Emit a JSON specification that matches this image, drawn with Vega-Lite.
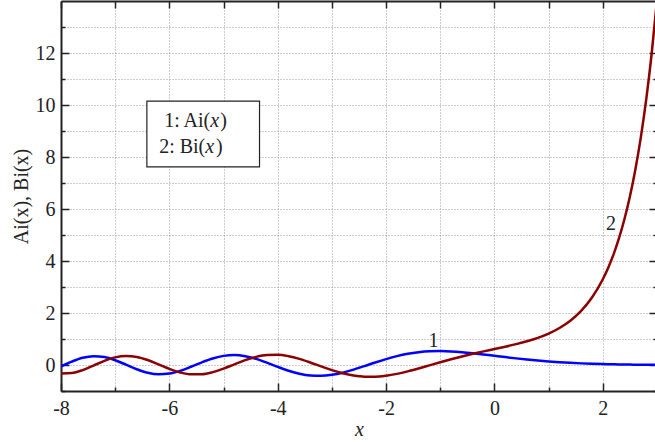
{
  "$schema": "https://vega.github.io/schema/vega-lite/v6.json",
  "width": 596,
  "height": 390,
  "autosize": {"type": "none"},
  "padding": {"left": 61, "top": 1, "right": 0, "bottom": 51},
  "background": "white",
  "config": {
    "font": "Liberation Serif",
    "view": {"stroke": null},
    "text": {"font": "Liberation Serif"},
    "axis": {
      "labelFont": "Liberation Serif",
      "labelFontSize": 20,
      "labelColor": "#222",
      "titleFont": "Liberation Serif",
      "titleFontSize": 20,
      "titleFontWeight": "normal",
      "titleColor": "#222",
      "domainColor": "#222",
      "domainWidth": 2,
      "tickColor": "#222",
      "tickWidth": 1.5,
      "gridColor": "#999",
      "gridDash": [1, 2],
      "gridWidth": 1,
      "labelOverlap": false,
      "labelFlush": false
    }
  },
  "datasets": {
    "curves": [
      {"x": -8.0, "Ai": -0.0527, "Bi": -0.3313},
      {"x": -7.8, "Ai": 0.1329, "Bi": -0.3103},
      {"x": -7.6, "Ai": 0.2783, "Bi": -0.1949},
      {"x": -7.4, "Ai": 0.3413, "Bi": -0.0216},
      {"x": -7.2, "Ai": 0.3058, "Bi": 0.1582},
      {"x": -7.0, "Ai": 0.1843, "Bi": 0.2938},
      {"x": -6.8, "Ai": 0.0121, "Bi": 0.3491},
      {"x": -6.6, "Ai": -0.1635, "Bi": 0.3116},
      {"x": -6.4, "Ai": -0.2971, "Bi": 0.1935},
      {"x": -6.2, "Ai": -0.3564, "Bi": 0.0268},
      {"x": -6.0, "Ai": -0.3291, "Bi": -0.1467},
      {"x": -5.8, "Ai": -0.2243, "Bi": -0.2859},
      {"x": -5.6, "Ai": -0.0683, "Bi": -0.3602},
      {"x": -5.4, "Ai": 0.1030, "Bi": -0.3553},
      {"x": -5.2, "Ai": 0.2526, "Bi": -0.2750},
      {"x": -5.0, "Ai": 0.3508, "Bi": -0.1383},
      {"x": -4.8, "Ai": 0.3800, "Bi": 0.0257},
      {"x": -4.6, "Ai": 0.3375, "Bi": 0.1852},
      {"x": -4.4, "Ai": 0.2336, "Bi": 0.3113},
      {"x": -4.2, "Ai": 0.0891, "Bi": 0.3835},
      {"x": -4.0, "Ai": -0.0704, "Bi": 0.3922},
      {"x": -3.8, "Ai": -0.2189, "Bi": 0.3390},
      {"x": -3.6, "Ai": -0.3348, "Bi": 0.2347},
      {"x": -3.4, "Ai": -0.4032, "Bi": 0.0969},
      {"x": -3.2, "Ai": -0.4173, "Bi": -0.0541},
      {"x": -3.0, "Ai": -0.3788, "Bi": -0.1983},
      {"x": -2.8, "Ai": -0.2947, "Bi": -0.3195},
      {"x": -2.6, "Ai": -0.1778, "Bi": -0.4050},
      {"x": -2.4, "Ai": -0.0425, "Bi": -0.4487},
      {"x": -2.2, "Ai": 0.0972, "Bi": -0.4495},
      {"x": -2.0, "Ai": 0.2274, "Bi": -0.4123},
      {"x": -1.8, "Ai": 0.3408, "Bi": -0.3414},
      {"x": -1.6, "Ai": 0.4299, "Bi": -0.2460},
      {"x": -1.4, "Ai": 0.4917, "Bi": -0.1347},
      {"x": -1.2, "Ai": 0.5262, "Bi": -0.0158},
      {"x": -1.0, "Ai": 0.5356, "Bi": 0.1040},
      {"x": -0.8, "Ai": 0.5236, "Bi": 0.2198},
      {"x": -0.6, "Ai": 0.4948, "Bi": 0.3288},
      {"x": -0.4, "Ai": 0.4542, "Bi": 0.4300},
      {"x": -0.2, "Ai": 0.4063, "Bi": 0.5245},
      {"x": 0.0, "Ai": 0.3550, "Bi": 0.6149},
      {"x": 0.2, "Ai": 0.3037, "Bi": 0.7055},
      {"x": 0.4, "Ai": 0.2547, "Bi": 0.8018},
      {"x": 0.6, "Ai": 0.2098, "Bi": 0.9111},
      {"x": 0.8, "Ai": 0.1698, "Bi": 1.0424},
      {"x": 1.0, "Ai": 0.1353, "Bi": 1.2074},
      {"x": 1.2, "Ai": 0.1061, "Bi": 1.4211},
      {"x": 1.4, "Ai": 0.0820, "Bi": 1.7037},
      {"x": 1.6, "Ai": 0.0625, "Bi": 2.0825},
      {"x": 1.8, "Ai": 0.0470, "Bi": 2.5959},
      {"x": 2.0, "Ai": 0.0349, "Bi": 3.2981},
      {"x": 2.1, "Ai": 0.0300, "Bi": 3.7431},
      {"x": 2.2, "Ai": 0.0256, "Bi": 4.2670},
      {"x": 2.3, "Ai": 0.0218, "Bi": 4.8849},
      {"x": 2.4, "Ai": 0.0186, "Bi": 5.6157},
      {"x": 2.5, "Ai": 0.0157, "Bi": 6.4817},
      {"x": 2.6, "Ai": 0.0133, "Bi": 7.5101},
      {"x": 2.7, "Ai": 0.0112, "Bi": 8.7344},
      {"x": 2.8, "Ai": 0.0094, "Bi": 10.1953},
      {"x": 2.9, "Ai": 0.0079, "Bi": 11.9425},
      {"x": 3.0, "Ai": 0.0066, "Bi": 14.0373}
    ]
  },
  "layer": [
    {
      "mark": {"type": "rule", "color": "#222", "strokeWidth": 1.2},
      "encoding": {
        "y": {"datum": 0, "type": "quantitative", "scale": {"domain": [-1, 14], "nice": false, "zero": false}, "axis": null}
      }
    },
    {
      "data": {"name": "curves"},
      "transform": [{"fold": ["Ai", "Bi"], "as": ["s", "v"]}],
      "mark": {"type": "line", "strokeWidth": 2.5, "interpolate": "monotone", "clip": true},
      "encoding": {
        "x": {
          "field": "x", "type": "quantitative",
          "scale": {"domain": [-8, 3], "nice": false, "zero": false},
          "axis": {
            "orient": "bottom",
            "values": [-8, -7, -6, -5, -4, -3, -2, -1, 0, 1, 2, 3],
            "grid": true,
            "tickSize": {"condition": {"test": "datum.value % 2 === 0", "value": -8}, "value": -4},
            "labelExpr": "datum.value % 2 === 0 ? '' + datum.value : ''",
            "labelPadding": 15,
            "labelFont": "Liberation Serif",
            "title": "x",
            "titleFont": "Liberation Serif",
            "titleFontStyle": "italic",
            "titlePadding": -3
          }
        },
        "y": {
          "field": "v", "type": "quantitative",
          "scale": {"domain": [-1, 14], "nice": false, "zero": false},
          "axis": {
            "orient": "left",
            "values": [-1, 0, 1, 2, 3, 4, 5, 6, 7, 8, 9, 10, 11, 12, 13],
            "grid": true,
            "tickSize": {"condition": {"test": "datum.value % 2 === 0", "value": -8}, "value": -4},
            "labelExpr": "datum.value % 2 === 0 ? '' + datum.value : ''",
            "labelPadding": 14,
            "labelFont": "Liberation Serif",
            "title": "Ai(x), Bi(x)",
            "titleFont": "Liberation Serif",
            "titlePadding": 4
          }
        },
        "color": {
          "field": "s", "type": "nominal",
          "scale": {"domain": ["Ai", "Bi"], "range": ["#0000ff", "#8b0000"]},
          "legend": null
        }
      }
    },
    {
      "data": {"values": [
        {"x": -1.125, "y": 0.70, "t": "1"},
        {"x": 2.15, "y": 5.18, "t": "2"}
      ]},
      "mark": {"type": "text", "fontSize": 20, "font": "Liberation Serif", "align": "center", "baseline": "alphabetic", "color": "#222"},
      "encoding": {
        "x": {
          "field": "x", "type": "quantitative",
          "scale": {"domain": [-8, 3], "nice": false, "zero": false},
          "axis": {
            "orient": "top",
            "values": [-8, -7, -6, -5, -4, -3, -2, -1, 0, 1, 2, 3],
            "grid": false, "labels": false, "title": null,
            "tickSize": -7
          }
        },
        "y": {
          "field": "y", "type": "quantitative",
          "scale": {"domain": [-1, 14], "nice": false, "zero": false},
          "axis": {
            "orient": "right",
            "values": [-1, 0, 1, 2, 3, 4, 5, 6, 7, 8, 9, 10, 11, 12, 13],
            "grid": false, "labels": false, "title": null,
            "tickSize": {"condition": {"test": "datum.value % 2 === 0", "value": -8}, "value": -4}
          }
        },
        "text": {"field": "t"}
      }
    },
    {
      "data": {"values": [{"x": -6.415, "x2": -4.336, "y": 10.15, "y2": 7.62}]},
      "mark": {"type": "rect", "fill": "white", "stroke": "#222", "strokeWidth": 1.2},
      "encoding": {
        "x": {"field": "x", "type": "quantitative", "scale": {"domain": [-8, 3], "nice": false, "zero": false}, "axis": null},
        "x2": {"field": "x2"},
        "y": {"field": "y", "type": "quantitative", "scale": {"domain": [-1, 14], "nice": false, "zero": false}, "axis": null},
        "y2": {"field": "y2"}
      }
    },
    {
      "data": {"values": [
        {"x": -5.245, "y": 9.16, "t": "1: Ai("},
        {"x": -5.337, "y": 8.16, "t": "2: Bi("}
      ]},
      "mark": {"type": "text", "fontSize": 20, "font": "Liberation Serif", "align": "right", "baseline": "alphabetic", "color": "#222"},
      "encoding": {
        "x": {"field": "x", "type": "quantitative", "scale": {"domain": [-8, 3], "nice": false, "zero": false}, "axis": null},
        "y": {"field": "y", "type": "quantitative", "scale": {"domain": [-1, 14], "nice": false, "zero": false}, "axis": null},
        "text": {"field": "t"}
      }
    },
    {
      "data": {"values": [
        {"x": -5.245, "y": 9.16, "t": "x"},
        {"x": -5.337, "y": 8.16, "t": "x"}
      ]},
      "mark": {"type": "text", "fontSize": 20, "font": "Liberation Serif", "fontStyle": "italic", "align": "left", "baseline": "alphabetic", "color": "#222"},
      "encoding": {
        "x": {"field": "x", "type": "quantitative", "scale": {"domain": [-8, 3], "nice": false, "zero": false}, "axis": null},
        "y": {"field": "y", "type": "quantitative", "scale": {"domain": [-1, 14], "nice": false, "zero": false}, "axis": null},
        "text": {"field": "t"}
      }
    },
    {
      "data": {"values": [
        {"x": -5.06, "y": 9.16, "t": ")"},
        {"x": -5.14, "y": 8.16, "t": ")"}
      ]},
      "mark": {"type": "text", "fontSize": 20, "font": "Liberation Serif", "align": "left", "baseline": "alphabetic", "color": "#222"},
      "encoding": {
        "x": {"field": "x", "type": "quantitative", "scale": {"domain": [-8, 3], "nice": false, "zero": false}, "axis": null},
        "y": {"field": "y", "type": "quantitative", "scale": {"domain": [-1, 14], "nice": false, "zero": false}, "axis": null},
        "text": {"field": "t"}
      }
    }
  ],
  "resolve": {"axis": {"x": "independent", "y": "independent"}}
}
